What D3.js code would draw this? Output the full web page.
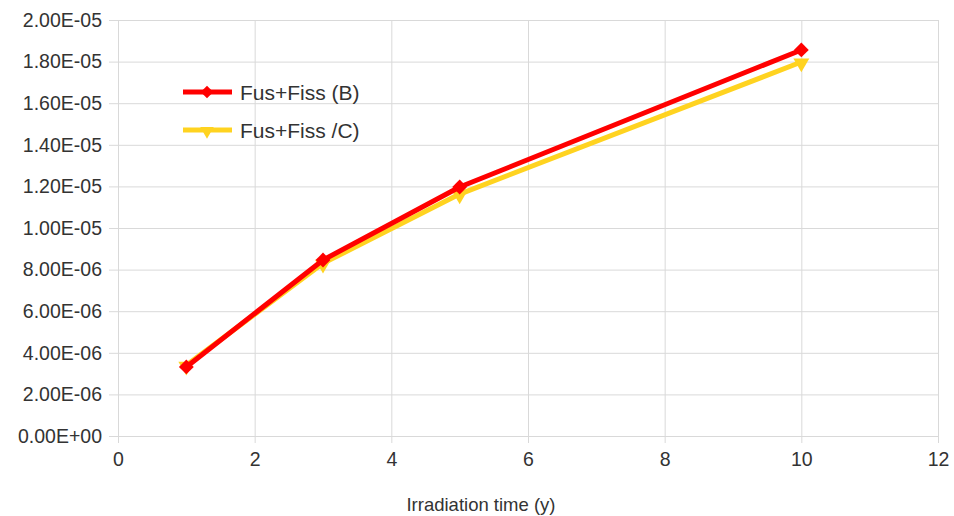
<!DOCTYPE html>
<html><head><meta charset="utf-8">
<script src="https://cdn.jsdelivr.net/npm/d3@7"></script>
<style>body{margin:0;background:#fff;} text{font-family:"Liberation Sans",Arial,sans-serif;fill:#333;}</style>
</head><body><svg id="c" width="954" height="516"></svg>
<script>
const xValues = [1, 3, 5, 10];
const seriesB = [3.32e-6, 8.46e-6, 1.197e-5, 1.856e-5];
const seriesC = [3.40e-6, 8.30e-6, 1.163e-5, 1.798e-5];
const seriesNames = ["Fus+Fiss (B)", "Fus+Fiss /C)"];
const xTicks = [0, 2, 4, 6, 8, 10, 12];
const yTicks = [0, 2e-6, 4e-6, 6e-6, 8e-6, 1e-5, 1.2e-5, 1.4e-5, 1.6e-5, 1.8e-5, 2e-5];
const xTitle = "Irradiation time (y)";

const svg = d3.select("#c");
const x = d3.scaleLinear().domain([0, 12]).range([118, 938]);
const y = d3.scaleLinear().domain([0, 2e-5]).range([436, 20]);
const grid = "#d9d9d9";

const fmtY = v => {
  const s = v.toExponential(2).toUpperCase();
  return s.replace(/E([+-])(\d)$/, "E$10$2");
};

// horizontal grid + left ticks
const yAxis = svg.append("g").attr("transform", "translate(118,0)")
  .call(d3.axisLeft(y).tickValues(yTicks).tickSize(-820).tickSizeOuter(0).tickFormat(fmtY).tickPadding(16));
yAxis.select(".domain").remove();
yAxis.selectAll("line").attr("stroke", grid).attr("x1", -9);
yAxis.selectAll("text").style("font-size", "19.5px").attr("fill", "#333").attr("font-family", "Liberation Sans, Arial, sans-serif");

const xAxis = svg.append("g").attr("transform", "translate(0,436)")
  .call(d3.axisBottom(x).tickValues(xTicks).tickSize(-416).tickSizeOuter(0).tickPadding(16));
xAxis.select(".domain").remove();
xAxis.selectAll("line").attr("stroke", grid).attr("y1", 7);
xAxis.selectAll("text").style("font-size", "19.5px").attr("fill", "#333").attr("font-family", "Liberation Sans, Arial, sans-serif");

svg.append("text").attr("x", 481).attr("y", 511).attr("text-anchor", "middle")
  .style("font-size", "18.5px").text(xTitle);

const line = d3.line().x((d, i) => x(xValues[i])).y(d => y(d));
const diamond = d3.symbol().type(d3.symbolDiamond2 || d3.symbolDiamond).size(150);
const tri = d3.symbol().type(d3.symbolTriangle).size(110);

function drawSeries(vals, color, kind) {
  svg.append("path").datum(vals).attr("d", line).attr("fill", "none")
    .attr("stroke", color).attr("stroke-width", 5).attr("stroke-linejoin", "round");
  svg.selectAll(null).data(vals).enter().append("path")
    .attr("d", kind === "d" ? d3.symbol().type(d3.symbolSquare).size(110)() : tri())
    .attr("transform", (d, i) => kind === "d"
      ? `translate(${x(xValues[i])},${y(d)}) rotate(45)`
      : `translate(${x(xValues[i])},${y(d) + 1}) rotate(180)`)
    .attr("fill", color);
}
drawSeries(seriesC, "#ffd320", "t");
drawSeries(seriesB, "#ff0000", "d");

// legend
const leg = [[seriesNames[0], "#ff0000", "d", 92], [seriesNames[1], "#ffd320", "t", 130]];
leg.forEach(([name, color, kind, ly]) => {
  svg.append("line").attr("x1", 183).attr("x2", 232).attr("y1", ly).attr("y2", ly)
    .attr("stroke", color).attr("stroke-width", 5);
  svg.append("path")
    .attr("d", kind === "d" ? d3.symbol().type(d3.symbolSquare).size(80)() : d3.symbol().type(d3.symbolTriangle).size(80)())
    .attr("transform", kind === "d" ? `translate(207,${ly}) rotate(45)` : `translate(207,${ly + 1}) rotate(180)`)
    .attr("fill", color);
  svg.append("text").attr("x", 240).attr("y", ly + 7.5).style("font-size", "21px").text(name);
});
</script></body></html>
